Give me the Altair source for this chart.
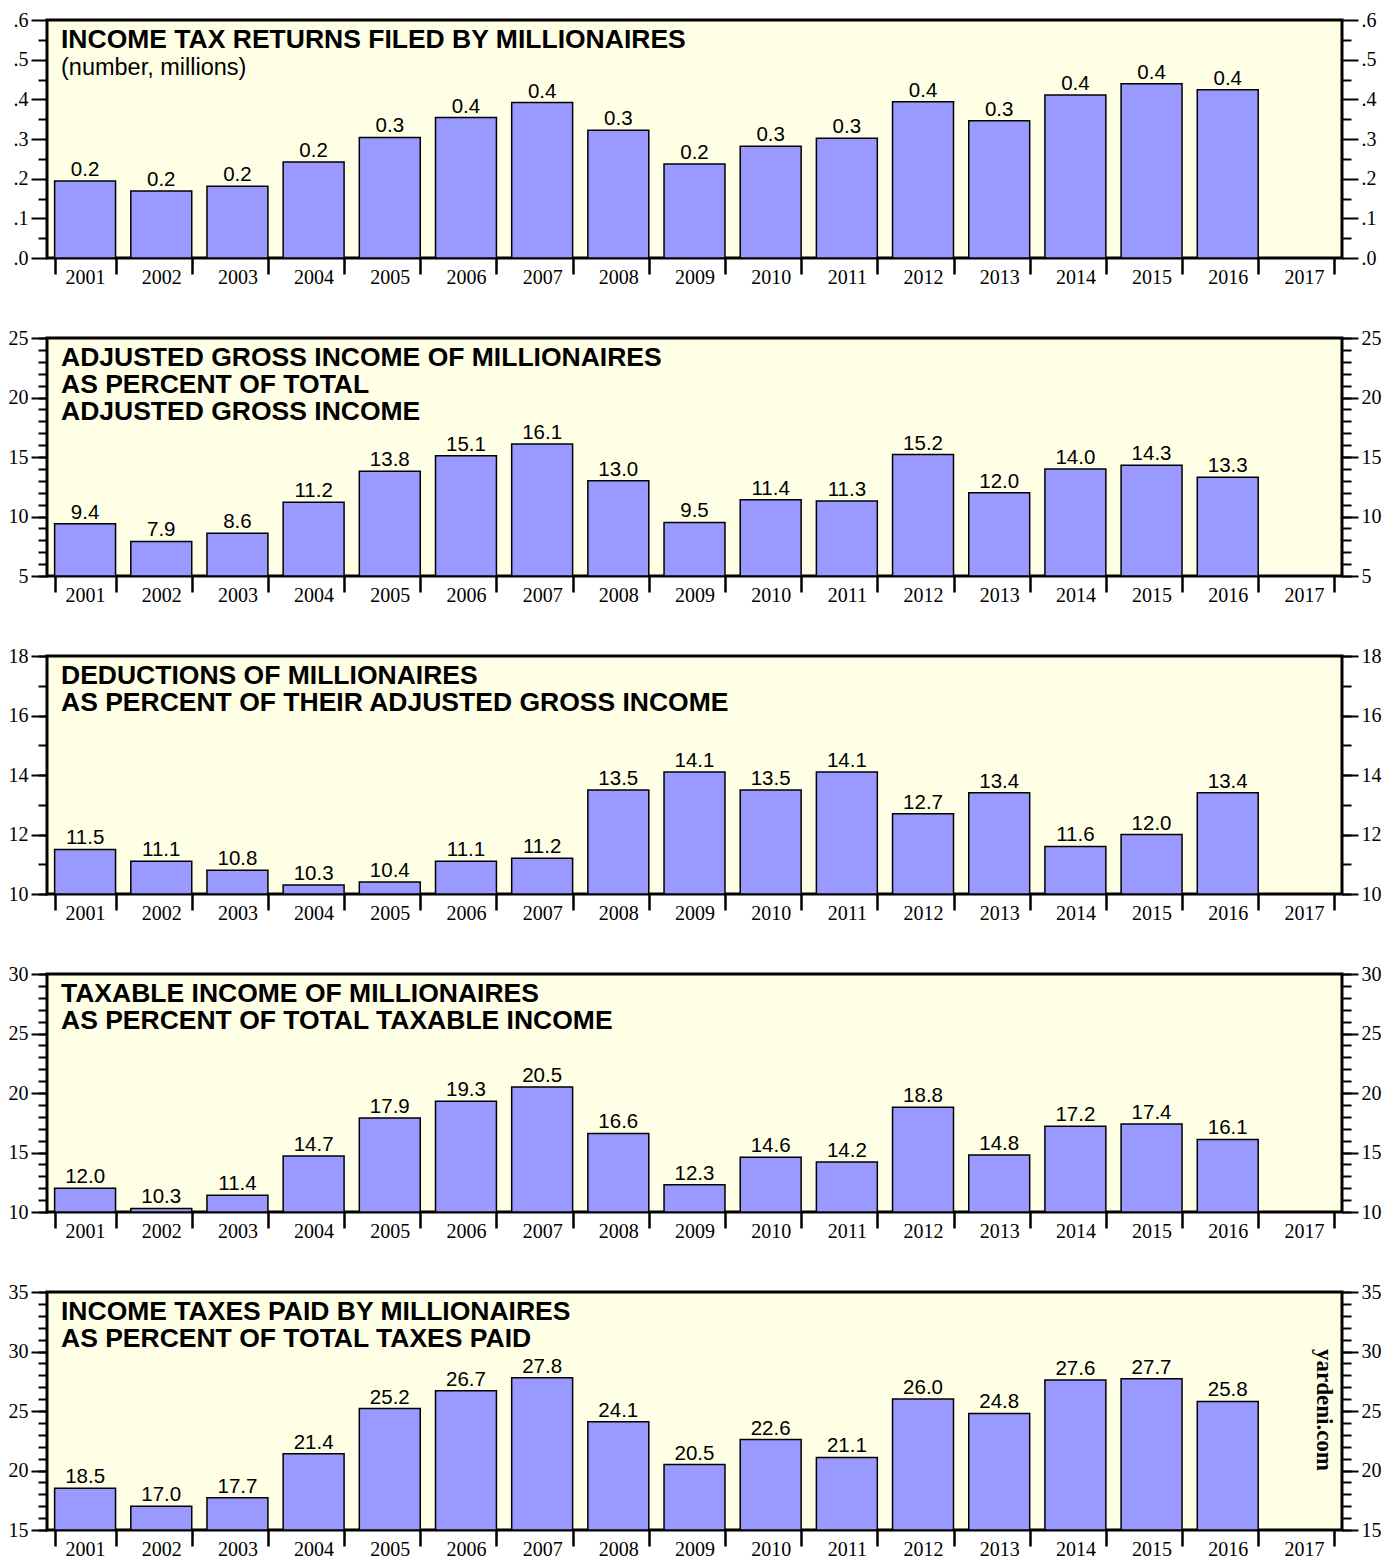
import altair as alt
import pandas as pd

YEARS = [str(y) for y in range(2001, 2018)]
DATA_YEARS = YEARS[:16]

# Panel values (2001-2016)
returns_millions = [0.194, 0.169, 0.181, 0.242, 0.304, 0.354, 0.392, 0.322, 0.237,
                    0.282, 0.302, 0.394, 0.346, 0.411, 0.439, 0.424]
agi_share = [9.4, 7.9, 8.6, 11.2, 13.8, 15.1, 16.1, 13.0, 9.5, 11.4, 11.3, 15.2,
             12.0, 14.0, 14.3, 13.3]
deductions_share = [11.5, 11.1, 10.8, 10.3, 10.4, 11.1, 11.2, 13.5, 14.1, 13.5,
                    14.1, 12.7, 13.4, 11.6, 12.0, 13.4]
taxable_share = [12.0, 10.3, 11.4, 14.7, 17.9, 19.3, 20.5, 16.6, 12.3, 14.6, 14.2,
                 18.8, 14.8, 17.2, 17.4, 16.1]
taxes_share = [18.5, 17.0, 17.7, 21.4, 25.2, 26.7, 27.8, 24.1, 20.5, 22.6, 21.1,
               26.0, 24.8, 27.6, 27.7, 25.8]

titles = [
    ["INCOME TAX RETURNS FILED BY MILLIONAIRES"],
    ["ADJUSTED GROSS INCOME OF MILLIONAIRES", "AS PERCENT OF TOTAL",
     "ADJUSTED GROSS INCOME"],
    ["DEDUCTIONS OF MILLIONAIRES", "AS PERCENT OF THEIR ADJUSTED GROSS INCOME"],
    ["TAXABLE INCOME OF MILLIONAIRES", "AS PERCENT OF TOTAL TAXABLE INCOME"],
    ["INCOME TAXES PAID BY MILLIONAIRES", "AS PERCENT OF TOTAL TAXES PAID"],
]
subtitle_1 = "(number, millions)"

domains = [[0, 0.6], [5, 25], [10, 18], [10, 30], [15, 35]]
major_ticks = [
    [0, 0.1, 0.2, 0.3, 0.4, 0.5, 0.6],
    [5, 10, 15, 20, 25],
    [10, 12, 14, 16, 18],
    [10, 15, 20, 25, 30],
    [15, 20, 25, 30, 35],
]
minor_ticks = [
    [0.05, 0.15, 0.25, 0.35, 0.45, 0.55],
    list(range(5, 26)),
    list(range(10, 19)),
    list(range(10, 31)),
    list(range(15, 36)),
]
series = [returns_millions, agi_share, deductions_share, taxable_share, taxes_share]

W, H = 1295, 238
BAR = "#9999FF"
BG = "#FFFFE6"
SERIF = "Liberation Serif"
SANS = "Liberation Sans"


def make_panel(i):
    df = pd.DataFrame({"year": DATA_YEARS, "value": series[i]})
    dom = domains[i]
    scale = alt.Scale(domain=dom, nice=False, zero=False)
    if i == 0:
        lab = dict(labelExpr="replace(format(datum.value, '.1f'), '0.', '.')")
    else:
        lab = dict(format="d")

    def yaxis(orient, values, size, labels):
        kw = dict(orient=orient, values=values, tickSize=size, tickWidth=2,
                  tickColor="black", domain=False, grid=False, title=None,
                  labels=labels)
        if labels:
            kw.update(labelFont=SERIF, labelFontSize=20, labelColor="black",
                      labelPadding=3, **lab)
        return alt.Axis(**kw)

    x = alt.X("year:N",
              scale=alt.Scale(domain=YEARS, paddingInner=0.2, paddingOuter=0.1),
              axis=alt.Axis(orient="bottom", tickBand="extent", tickSize=16,
                            tickWidth=2.5, tickColor="black", domain=False,
                            labelAngle=0, labelFont=SERIF, labelFontSize=20,
                            labelColor="black", labelPadding=-7, title=None,
                            grid=False))

    base = alt.Chart(df)
    bars = base.mark_bar(fill=BAR, stroke="black", strokeWidth=1.5).encode(
        x=x,
        y=alt.Y("value:Q", scale=scale, axis=yaxis("left", major_ticks[i], 16, True)),
        y2=alt.datum(dom[0]),
    )
    labels = base.mark_text(font=SANS, fontSize=20.5, baseline="alphabetic", dy=-5,
                            color="black").encode(
        x=x,
        y=alt.Y("value:Q", scale=scale, axis=yaxis("right", major_ticks[i], 16, True)),
        text=alt.Text("value:Q", format=".1f"),
    )
    minor_left = base.mark_point(opacity=0).encode(
        x=x,
        y=alt.Y("value:Q", scale=scale, axis=yaxis("left", minor_ticks[i], 9, False)),
    )
    minor_right = base.mark_point(opacity=0).encode(
        x=x,
        y=alt.Y("value:Q", scale=scale, axis=yaxis("right", minor_ticks[i], 9, False)),
    )
    one = alt.Data(values=[{}])
    title = alt.Chart(one).mark_text(
        text=titles[i], font=SANS, fontSize=26.5, fontWeight="bold", align="left",
        baseline="alphabetic", lineHeight=27, color="black",
    ).encode(x=alt.value(14), y=alt.value(28))
    layers = [bars, labels, minor_left, minor_right, title]
    if i == 0:
        sub = alt.Chart(one).mark_text(
            text=subtitle_1, font=SANS, fontSize=23.5, align="left",
            baseline="alphabetic", color="black",
        ).encode(x=alt.value(14), y=alt.value(55))
        layers.append(sub)
    if i == 4:
        mark = alt.Chart(one).mark_text(
            text="yardeni.com", font=SERIF, fontSize=23, fontWeight="bold",
            angle=90, align="center", baseline="middle", color="black",
        ).encode(x=alt.value(1277), y=alt.value(118))
        layers.append(mark)
    return alt.layer(*layers).resolve_axis(y="independent").properties(width=W, height=H)


chart = alt.vconcat(*[make_panel(i) for i in range(5)], spacing=80, bounds="flush").properties(
    padding={"left": -2, "top": 0, "right": 0, "bottom": 0}
).configure_view(stroke="black", strokeWidth=3, fill=BG)

chart.save("out.html", embed_options={"renderer": "svg", "actions": False})
